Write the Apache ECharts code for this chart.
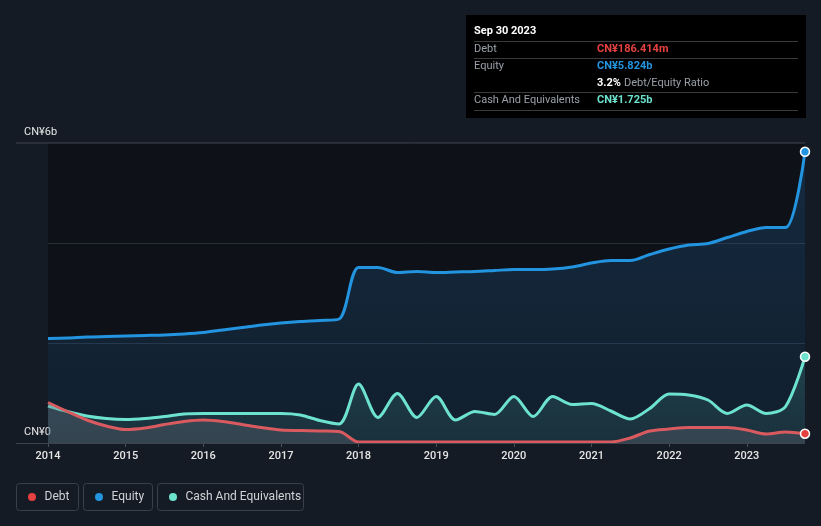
<!DOCTYPE html>
<html>
<head>
<meta charset="utf-8">
<script src="https://cdn.jsdelivr.net/npm/echarts@6/dist/echarts.min.js"></script>
<style>
html,body{margin:0;padding:0;background:#151b24;}
#c{width:821px;height:526px;}
</style>
</head>
<body>
<div id="c"></div>
<script>
const dates = [
  2014, 2014.25, 2014.5, 2014.75,
  2015, 2015.25, 2015.5, 2015.75,
  2016, 2016.25, 2016.5, 2016.75,
  2017, 2017.25, 2017.5, 2017.75,
  2018, 2018.25, 2018.5, 2018.75,
  2019, 2019.25, 2019.5, 2019.75,
  2020, 2020.25, 2020.5, 2020.75,
  2021, 2021.25, 2021.5, 2021.75,
  2022, 2022.25, 2022.5, 2022.75,
  2023, 2023.25, 2023.5, 2023.75
];
// values in CN¥ billions
const debt = [
  0.81, 0.63, 0.46, 0.34,
  0.27, 0.30, 0.37, 0.43,
  0.46, 0.43, 0.37, 0.31,
  0.26, 0.25, 0.24, 0.23,
  0.02, 0.02, 0.02, 0.02,
  0.02, 0.02, 0.02, 0.02,
  0.02, 0.02, 0.02, 0.02,
  0.02, 0.02, 0.10, 0.24,
  0.28, 0.31, 0.31, 0.31,
  0.26, 0.18, 0.22, 0.186414
];
const equity = [
  2.09, 2.10, 2.12, 2.13,
  2.14, 2.15, 2.16, 2.18,
  2.21, 2.26, 2.31, 2.36,
  2.40, 2.43, 2.45, 2.48,
  3.51, 3.51, 3.41, 3.43,
  3.41, 3.42, 3.43, 3.45,
  3.47, 3.47, 3.48, 3.52,
  3.60, 3.65, 3.65, 3.77,
  3.88, 3.96, 3.99, 4.11,
  4.23, 4.31, 4.31, 5.824
];
const cash = [
  0.74, 0.63, 0.54, 0.49,
  0.47, 0.49, 0.53, 0.58,
  0.59, 0.59, 0.59, 0.59,
  0.59, 0.56, 0.45, 0.38,
  1.18, 0.51, 0.99, 0.51,
  0.93, 0.46, 0.63, 0.57,
  0.93, 0.53, 0.93, 0.77,
  0.79, 0.64, 0.48, 0.69,
  0.98, 0.96, 0.86, 0.59,
  0.76, 0.59, 0.73, 1.725
];
const yearTicks = [2014, 2015, 2016, 2017, 2018, 2019, 2020, 2021, 2022, 2023];
const tooltipTitle = 'Sep 30 2023';
const seriesNames = ['Debt', 'Equity', 'Cash And Equivalents'];
const colors = { debt: '#d95a5f', debtDot: '#e64141', equity: '#2394df', cash: '#6de2cf' };

const FONT = 'Roboto, "Noto Sans", sans-serif';

function buildData(vals, dotColor) {
  return vals.map((v, i) => {
    if (i === vals.length - 1) {
      return { value: [dates[i], v], symbol: 'circle', symbolSize: 9,
        itemStyle: { color: dotColor, borderColor: '#ffffff', borderWidth: 1.5 } };
    }
    return { value: [dates[i], v], symbol: 'none' };
  });
}

const chart = echarts.init(document.getElementById('c'), null, { renderer: 'canvas' });

const SMOOTH = 0.3;
const option = {
  backgroundColor: '#151b24',
  animation: false,
  textStyle: { fontFamily: FONT },
  grid: { left: 48, right: 16, top: 143, bottom: 83, show: true, backgroundColor: '#0e1218', borderWidth: 0 },
  xAxis: {
    type: 'value', min: 2014, max: 2023.75, interval: 1,
    axisLine: { show: false },
    axisTick: { show: true, length: 4, lineStyle: { color: '#4a505a' } },
    splitLine: { show: false },
    axisLabel: {
      color: '#e6e6e6', fontSize: 11, fontWeight: 500, margin: 8, fontFamily: FONT,
      showMaxLabel: false,
      formatter: v => (yearTicks.indexOf(v) >= 0 ? String(v) : '')
    }
  },
  yAxis: {
    type: 'value', min: 0, max: 6, interval: 2,
    axisLine: { show: false }, axisTick: { show: false },
    splitLine: { show: true, lineStyle: { color: ['rgba(0,0,0,0)', '#262e39', '#262e39', 'rgba(0,0,0,0)'], width: 1 } },
    axisLabel: {
      color: '#e6e6e6', fontSize: 11, fontFamily: FONT, align: 'left', margin: 24,
      verticalAlign: 'bottom', padding: [0, 0, 5, 0],
      formatter: v => (v === 0 ? 'CN¥0' : (v === 6 ? 'CN¥6b' : ''))
    }
  },
  series: [
    {
      name: seriesNames[1], type: 'line', smooth: SMOOTH,
      data: buildData(equity, colors.equity), z: 2,
      lineStyle: { color: colors.equity, width: 3 },
      itemStyle: { color: colors.equity },
      areaStyle: { color: new echarts.graphic.LinearGradient(0, 0, 0, 1, [
        { offset: 0, color: 'rgba(35,100,160,0.42)' },
        { offset: 1, color: 'rgba(35,100,160,0.22)' }
      ]) }
    },
    {
      name: seriesNames[2], type: 'line', smooth: SMOOTH,
      data: buildData(cash, colors.cash), z: 3,
      lineStyle: { color: colors.cash, width: 3 },
      itemStyle: { color: colors.cash },
      areaStyle: { color: new echarts.graphic.LinearGradient(0, 0, 0, 1, [
        { offset: 0, color: 'rgba(80,170,160,0.32)' },
        { offset: 1, color: 'rgba(80,170,160,0.18)' }
      ]) }
    },
    {
      name: seriesNames[0], type: 'line', smooth: SMOOTH,
      data: buildData(debt, colors.debtDot), z: 4,
      lineStyle: { color: colors.debt, width: 3 },
      itemStyle: { color: colors.debtDot },
      areaStyle: { color: 'rgba(110,110,125,0.45)' }
    }
  ]
};
chart.setOption(option);

// Extra decorations positioned through the chart's own scales
const y0 = chart.convertToPixel({ yAxisIndex: 0 }, 0);
const y6 = chart.convertToPixel({ yAxisIndex: 0 }, 6);
const xEnd = chart.convertToPixel({ xAxisIndex: 0 }, 2023.75);

const last = dates.length - 1;
const fmt = v => v < 1 ? (v * 1000).toFixed(3) + 'm' : v.toFixed(3) + 'b';
const ratio = (debt[last] / equity[last] * 100).toFixed(1) + '%';

const lblStyle = { fill: '#9aa0a8', fontSize: 11, fontFamily: FONT };
const boxX = 466, boxY = 15, colX = 474, valX = 597, lineW = 324;
const graphics = [
  { type: 'line', shape: { x1: 16, y1: y6, x2: xEnd, y2: y6 }, style: { stroke: '#40454e', lineWidth: 1 }, z: 5 },
  { type: 'line', shape: { x1: 16, y1: y0 + 0.5, x2: xEnd, y2: y0 + 0.5 }, style: { stroke: '#3e444e', lineWidth: 1 }, z: 5 },
  // tooltip panel
  { type: 'rect', shape: { x: boxX, y: boxY, width: 340, height: 103 }, style: { fill: '#000000' }, z: 10 },
  { type: 'text', x: colX, y: 31, style: { text: tooltipTitle, fill: '#ffffff', fontSize: 11, fontWeight: 'bold', fontFamily: FONT, verticalAlign: 'middle' }, z: 11 },
  { type: 'line', shape: { x1: colX, y1: 41.5, x2: colX + lineW, y2: 41.5 }, style: { stroke: '#3a3a3a', lineWidth: 1 }, z: 11 },
  { type: 'text', x: colX, y: 49.5, style: Object.assign({ text: seriesNames[0], verticalAlign: 'middle' }, lblStyle), z: 11 },
  { type: 'text', x: valX, y: 49.5, style: { text: 'CN¥' + fmt(debt[last]), fill: '#e64141', fontSize: 11, fontWeight: 'bold', fontFamily: FONT, verticalAlign: 'middle' }, z: 11 },
  { type: 'line', shape: { x1: colX, y1: 58.5, x2: colX + lineW, y2: 58.5 }, style: { stroke: '#3a3a3a', lineWidth: 1 }, z: 11 },
  { type: 'text', x: colX, y: 66.5, style: Object.assign({ text: seriesNames[1], verticalAlign: 'middle' }, lblStyle), z: 11 },
  { type: 'text', x: valX, y: 66.5, style: { text: 'CN¥' + fmt(equity[last]), fill: '#2394df', fontSize: 11, fontWeight: 'bold', fontFamily: FONT, verticalAlign: 'middle' }, z: 11 },
  { type: 'text', x: valX, y: 83.5, style: { text: '{b|' + ratio + '} {g|Debt/Equity Ratio}', verticalAlign: 'middle', fontFamily: FONT,
      rich: { b: { fill: '#ffffff', fontWeight: 'bold', fontSize: 11, fontFamily: FONT }, g: { fill: '#9aa0a8', fontSize: 11, fontFamily: FONT } } }, z: 11 },
  { type: 'line', shape: { x1: colX, y1: 92.5, x2: colX + lineW, y2: 92.5 }, style: { stroke: '#3a3a3a', lineWidth: 1 }, z: 11 },
  { type: 'text', x: colX, y: 100.5, style: Object.assign({ text: seriesNames[2], verticalAlign: 'middle' }, lblStyle), z: 11 },
  { type: 'text', x: valX, y: 100.5, style: { text: 'CN¥' + fmt(cash[last]), fill: '#6de2cf', fontSize: 11, fontWeight: 'bold', fontFamily: FONT, verticalAlign: 'middle' }, z: 11 },
  { type: 'line', shape: { x1: colX, y1: 110.5, x2: colX + lineW, y2: 110.5 }, style: { stroke: '#3a3a3a', lineWidth: 1 }, z: 11 }
];

// legend boxes
const legendItems = [
  { name: seriesNames[0], color: colors.debtDot, x: 16.5, w: 62 },
  { name: seriesNames[1], color: colors.equity, x: 83.5, w: 69 },
  { name: seriesNames[2], color: colors.cash, x: 157.5, w: 146 }
];
legendItems.forEach(it => {
  graphics.push({ type: 'rect', shape: { x: it.x, y: 483.5, width: it.w, height: 27, r: 3 }, style: { fill: 'none', stroke: '#3a404b', lineWidth: 1 }, z: 10 });
  graphics.push({ type: 'circle', shape: { cx: it.x + 15.5, cy: 497, r: 4 }, style: { fill: it.color }, z: 11 });
  graphics.push({ type: 'text', x: it.x + 28, y: 497, style: { text: it.name, fill: '#cfd3d8', fontSize: 12, fontFamily: FONT, verticalAlign: 'middle' }, z: 11 });
});

chart.setOption({ graphic: graphics });
</script>
</body>
</html>
